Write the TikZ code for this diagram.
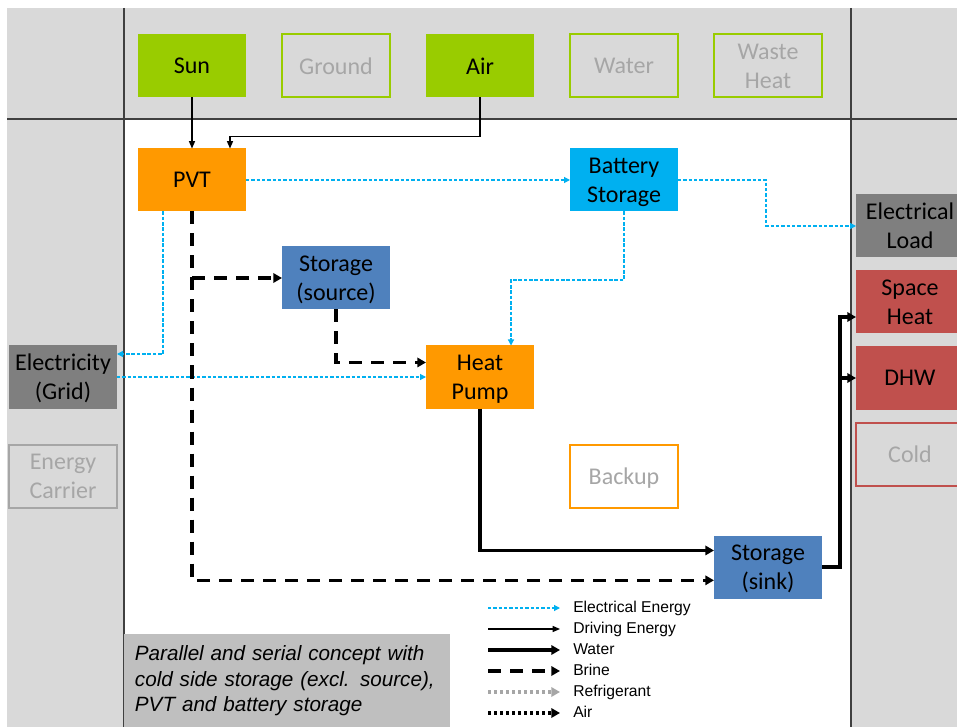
\documentclass[tikz,border=0pt]{standalone}
\usepackage{fontspec}
\setmainfont{Carlito}
\newfontfamily\arialfont{Liberation Sans}
\usetikzlibrary{positioning,arrows.meta}
\definecolor{bandgray}{HTML}{D9D9D9}
\definecolor{srcgreen}{HTML}{99CC00}
\definecolor{pvtorange}{HTML}{FF9900}
\definecolor{batblue}{HTML}{00B0F0}
\definecolor{stoblue}{HTML}{4F81BD}
\definecolor{griddark}{HTML}{7F7F7F}
\definecolor{loadred}{HTML}{C0504D}
\definecolor{offgray}{HTML}{A6A6A6}
\definecolor{notegray}{HTML}{BFBFBF}
\definecolor{sepline}{HTML}{404040}
\begin{document}
\begin{tikzpicture}[x=0.75pt,y=-0.75pt,node distance=27pt,
cbox/.style={minimum width=81pt,minimum height=47.25pt,inner sep=0pt,outer sep=0pt,align=center,text depth=0pt,font=\fontsize{18}{21.75}\selectfont},
obox/.style={cbox,draw=#1,line width=1.5pt,text=offgray},
legtxt/.style={anchor=west,inner sep=0pt,text height=8.5pt,text depth=2.5pt,font=\arialfont\fontsize{11.75}{13}\selectfont},
elec/.style={draw=batblue,line width=0.9pt,dash pattern=on 2.6pt off 1.4pt,-{Triangle[length=4.5pt,width=4.5pt]}},
drive/.style={draw=black,line width=0.9pt,-{Triangle[length=5.5pt,width=4.5pt]}},
water/.style={draw=black,line width=2.6pt,-{Triangle[length=6.5pt,width=7pt]}},
brine/.style={water,dash pattern=on 9.75pt off 6.75pt},
refr/.style={water,draw=offgray,dash pattern=on 2.5pt off 2pt},
air/.style={water,dash pattern=on 2.5pt off 2pt}]
\useasboundingbox (0,0) rectangle (957,727);
\fill[bandgray] (7,8) rectangle (957,727);
\fill[white] (124,119) rectangle (851,727);
\draw[sepline,line width=1.1pt] (7,119) -- (957,119);
\draw[sepline,line width=1.1pt] (124,8) -- (124,727);
\draw[sepline,line width=1.1pt] (851,8) -- (851,727);
\node[cbox,fill=srcgreen] (SU) at (192,66) {Sun};
\node[obox=srcgreen,right=of SU] (GR) {Ground};
\node[cbox,fill=srcgreen,right=of GR] (AI) {Air};
\node[obox=srcgreen,right=of AI] (WA) {Water};
\node[obox=srcgreen,right=of WA] (WH) {Waste\\Heat};
\node[cbox,fill=pvtorange,below=38.25pt of SU] (PVT) {PVT};
\node[cbox,fill=batblue,below=38.25pt of WA] (BAT) {Battery\\Storage};
\node[cbox,fill=stoblue,below right=26.25pt and 27pt of PVT] (STS) {Storage\\(source)};
\node[cbox,fill=pvtorange,below right=27pt and 27pt of STS] (HP) {Heat\\Pump};
\node[obox=pvtorange,below right=27pt and 27pt of HP] (BU) {Backup};
\node[cbox,fill=stoblue,below right=21pt and 27pt of BU] (STK) {Storage\\(sink)};
\node[cbox,fill=griddark] (GRID) at (63,377) {Electricity\\(Grid)};
\node[obox=offgray,below=of GRID] (EC) {Energy\\Carrier};
\node[cbox,fill=griddark] (EL) at (910,226) {Electrical\\Load};
\node[cbox,fill=loadred,below=9.75pt of EL] (SH) {Space\\Heat};
\node[cbox,fill=loadred,below=9.75pt of SH] (DHW) {DHW};
\node[obox=loadred,below=9.75pt of DHW] (CO) {Cold};
\node[anchor=north west,fill=notegray,minimum height=69.75pt,inner xsep=8pt,text width=228.5pt,align=left,font=\arialfont\itshape\fontsize{15.5}{19}\selectfont] (NOTE) at (124,634) {Parallel and serial concept with\\cold side storage (excl. source),\\PVT and battery storage};
\draw[drive] (SU) -- (PVT);
\draw[drive] (AI.south) -- ++(0,39) -| ([xshift=28.5pt]PVT.north);
\draw[elec] (PVT) -- (BAT);
\draw[elec] (BAT.east) -- ++(88,0) |- (EL.west);
\draw[elec] (BAT.south) -- ++(0,68.5) -| ([xshift=23.25pt]HP.north);
\draw[elec] ([xshift=-21.75pt]PVT.south) |- ([yshift=17.25pt]GRID.east);
\draw[elec] (GRID.east) -- (GRID.east -| HP.west);
\draw[brine] (PVT.south) |- ([yshift=-10pt]STK.west);
\draw[brine] (PVT.south |- STS.west) -- (STS.west);
\draw[brine] (STS.south) |- ([yshift=10.9pt]HP.west);
\draw[water] (HP.south) |- ([yshift=12.4pt]STK.west);
\coordinate (SPLIT) at ([xshift=13.5pt]STK.east);
\draw[water] (STK.east) -- (SPLIT) |- ([yshift=-11.25pt]SH.west);
\draw[water] (SPLIT |- DHW.west) -- (DHW.west);
\node[legtxt] (LEL) at (573,608) {Electrical Energy};
\node[legtxt] (LDR) at (573,629) {Driving Energy};
\node[legtxt] (LWA) at (573,650) {Water};
\node[legtxt] (LBR) at (573,671) {Brine};
\node[legtxt] (LRE) at (573,692) {Refrigerant};
\node[legtxt] (LAI) at (573,713) {Air};
\draw[elec] ([xshift=-63.75pt]LEL.west) -- ([xshift=-9.75pt]LEL.west);
\draw[drive] ([xshift=-63.75pt]LDR.west) -- ([xshift=-9.75pt]LDR.west);
\draw[water] ([xshift=-63.75pt]LWA.west) -- ([xshift=-9.75pt]LWA.west);
\draw[brine] ([xshift=-63.75pt]LBR.west) -- ([xshift=-9.75pt]LBR.west);
\draw[refr] ([xshift=-63.75pt]LRE.west) -- ([xshift=-9.75pt]LRE.west);
\draw[air] ([xshift=-63.75pt]LAI.west) -- ([xshift=-9.75pt]LAI.west);
\end{tikzpicture}
\end{document}
